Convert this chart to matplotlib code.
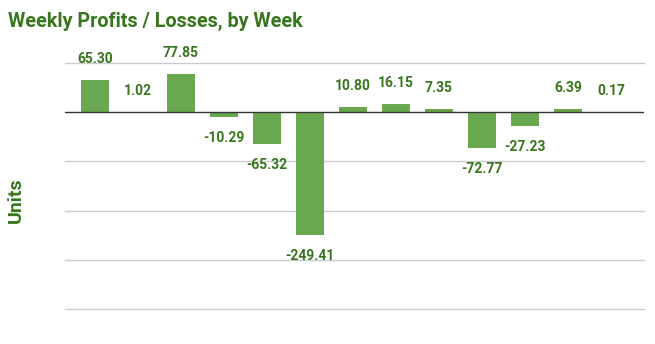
import matplotlib
matplotlib.use("Agg")
import matplotlib.pyplot as plt

weeks = list(range(1, 14))
values = [65.30, 1.02, 77.85, -10.29, -65.32, -249.41, 10.80, 16.15, 7.35, -72.77, -27.23, 6.39, 0.17]
labels = ["65.30", "1.02", "77.85", "-10.29", "-65.32", "-249.41", "10.80", "16.15", "7.35", "-72.77", "-27.23", "6.39", "0.17"]
yticks = [100, 0, -100, -200, -300, -400]

W, H = 655, 344
fig = plt.figure(figsize=(W / 100, H / 100), dpi=100)
ax = fig.add_axes([65 / W, (H - 309) / H, (644 - 65) / W, (309 - 63) / H])

bar_color = "#6aa84f"
text_color = "#38761d"
font = ["Roboto", "DejaVu Sans"]

x = list(range(len(values)))
ax.bar(x, values, width=0.65, color=bar_color, zorder=3)

for xi, v, lab in zip(x, values, labels):
    off = 21 if v >= 0 else -21
    ax.annotate(lab, (xi, v), xytext=(0, off), textcoords="offset pixels",
                ha="center", va="center", fontsize=10, fontweight="bold",
                color=text_color, family=font, zorder=4)

ax.set_xlim(-0.7, len(values) - 1 + 0.77)
ax.set_ylim(-400, 100)
ax.set_yticks(yticks)
ax.set_xticks([])
ax.tick_params(left=False, labelleft=False)
for s in ax.spines.values():
    s.set_visible(False)
for t in yticks:
    if t == 0:
        continue
    ax.axhline(t, color="#cccccc", linewidth=1, zorder=1, clip_on=False)
ax.axhline(0, color="#333333", linewidth=1, zorder=5)

fig.text(8 / W, 1 - 21 / H, "Weekly Profits / Losses, by Week", ha="left", va="center",
         fontsize=14.2, fontweight="bold", color=text_color, family=font)
fig.text(16 / W, 1 - 200 / H, "Units", ha="center", va="center", rotation=90,
         fontsize=14, fontweight="bold", color=text_color, family=font)

fig.savefig("out.png", dpi=100)
